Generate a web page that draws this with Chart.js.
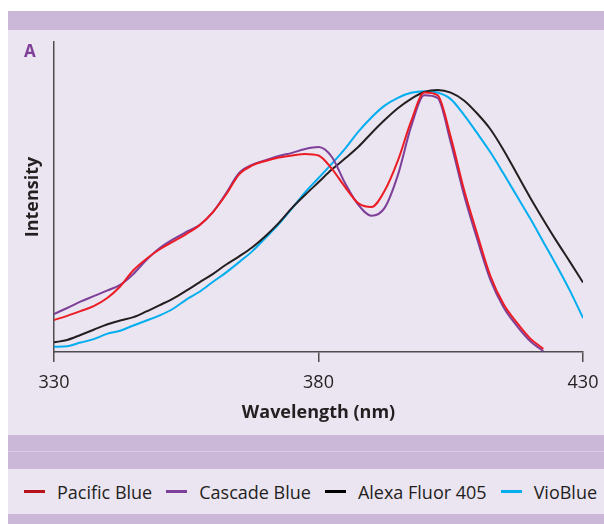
<!DOCTYPE html>
<html>
<head>
<meta charset="utf-8">
<title>Excitation spectra</title>
<script src="https://cdn.jsdelivr.net/npm/chart.js@4.4.1/dist/chart.umd.min.js"></script>
<style>
  body { margin: 0; width: 604px; height: 524px; background: #fff; position: relative; overflow: hidden;
         font-family: "Open Sans", sans-serif; color: #231f20; }
  .band  { position: absolute; left: 8px; right: 0; background: #cbb8d8; }
  .panel { position: absolute; left: 8px; right: 0; background: #ebe4f1; }
  .seam  { position: absolute; left: 8px; right: 0; top: 451px; height: 1px; background: #d9cce3; }
  #chart { position: absolute; left: 8px; top: 30px; }
  .tag   { position: absolute; left: 24px; top: 39px; font-weight: bold; font-size: 17px; color: #7e3f98; }
  #legend { position: absolute; left: 8px; right: 0; top: 469px; height: 45px; display: flex; align-items: center;
            padding-left: 16px; font-size: 18px; white-space: nowrap; }
  .swatch { width: 21px; height: 3px; margin-right: 12px; }
  .item   { display: flex; align-items: center; margin-right: 14px; }
</style>
</head>
<body>
  <div class="band" style="top:11px;height:19px"></div>
  <div class="panel" style="top:30px;height:405px"></div>
  <div class="band" style="top:435px;height:34px"></div>
  <div class="seam"></div>
  <div class="panel" style="top:469px;height:45px"></div>
  <div class="band" style="top:514px;height:10px"></div>
  <canvas id="chart" width="596" height="405"></canvas>
  <div class="tag">A</div>
  <div id="legend"></div>

<script>
// wavelength grid (nm)
const wavelengths = [330, 332.5, 335, 337.5, 340, 342.5, 345, 347.5, 350, 352.5,
  355, 357.5, 360, 362.5, 365, 367.5, 370, 372.5, 375, 377.5,
  380, 382.5, 385, 387.5, 390, 392.5, 395, 397.5, 400, 402.5,
  405, 407.5, 410, 412.5, 415, 417.5, 420, 422.5, 425, 427.5, 430];

// relative intensity (peak ~100)
const pacificBlue = [12.2, 13.8, 15.6, 17.5, 20.5, 25.0, 31.2, 35.6, 39.2, 42.1,
  45.0, 48.4, 53.3, 60.0, 67.8, 71.2, 72.9, 74.2, 75.0, 75.6,
  75.0, 70.0, 63.0, 56.8, 55.3, 61.5, 73.0, 88.0, 99.0, 98.0,
  82.0, 62.0, 45.0, 29.0, 18.2, 11.2, 5.2, 1.2, null, null, null];

const cascadeBlue = [14.5, 16.8, 19.2, 21.3, 23.4, 25.6, 29.8, 35.2, 39.7, 43.0,
  45.8, 48.4, 53.3, 60.5, 68.3, 71.5, 73.2, 74.8, 76.0, 77.5,
  78.2, 74.5, 64.5, 56.2, 52.0, 55.0, 67.5, 86.0, 98.0, 97.0,
  80.0, 60.0, 43.0, 27.5, 17.0, 10.0, 4.2, 0.3, null, null, null];

const alexaFluor405 = [3.7, 4.6, 6.5, 8.5, 10.5, 12.0, 13.3, 15.5, 17.9, 20.4,
  23.4, 26.6, 29.7, 33.3, 36.5, 40.0, 44.3, 49.3, 55.0, 60.0,
  64.8, 69.6, 73.8, 78.2, 83.5, 88.5, 93.0, 96.6, 99.2, 100,
  99.0, 96.0, 91.0, 85.0, 77.0, 68.0, 59.0, 50.5, 42.3, 34.5, 26.5];

const vioBlue = [2.0, 2.2, 3.6, 4.9, 6.9, 8.1, 10.1, 12.0, 14.0, 16.5,
  20.0, 23.0, 26.7, 30.3, 34.3, 38.5, 43.6, 48.8, 54.8, 61.0,
  66.4, 71.8, 77.5, 84.0, 89.5, 94.0, 97.0, 98.9, 99.5, 99.0,
  96.5, 90.5, 83.5, 76.2, 68.0, 59.5, 51.0, 42.0, 33.0, 23.5, 13.0];

const seriesNames = ['Pacific Blue', 'Cascade Blue', 'Alexa Fluor 405', 'VioBlue'];
const seriesValues = [pacificBlue, cascadeBlue, alexaFluor405, vioBlue];
const lineColors = ['#ec1c24', '#7d3f98', '#231f20', '#00aeef'];
const legendColors = ['#b5121b', '#7d3f98', '#000000', '#00aeef'];
const xTicks = [330, 380, 430];

const axisColor = '#4d4d4f';
const textColor = '#231f20';
Chart.defaults.font.family = "'Open Sans', sans-serif";

const datasets = seriesNames.map((name, i) => ({
  label: name,
  data: wavelengths
    .map((w, j) => ({ x: w, y: seriesValues[i][j] }))
    .filter(p => p.y !== null),
  borderColor: lineColors[i],
  borderWidth: 2,
  pointRadius: 0,
  fill: false,
  cubicInterpolationMode: 'monotone',
}));

new Chart(document.getElementById('chart'), {
  type: 'line',
  data: { datasets },
  options: {
    responsive: false,
    animation: false,
    layout: { padding: { top: 12, right: 21, left: 0, bottom: 0 } },
    plugins: { legend: { display: false }, tooltip: { enabled: false } },
    scales: {
      x: {
        type: 'linear',
        min: xTicks[0],
        max: xTicks[xTicks.length - 1],
        // fixed axis box so the plot area lines up with the panel
        afterFit: (s) => { s.height = 83; s.paddingLeft = 0; s.paddingRight = 0; },
        afterBuildTicks: (s) => { s.ticks = xTicks.map(v => ({ value: v })); },
        ticks: { padding: 10, color: textColor, font: { size: 18 } },
        grid: { drawOnChartArea: false, drawTicks: true, tickLength: 10, color: axisColor, lineWidth: 1.5 },
        border: { color: axisColor, width: 1.5 },
        title: {
          display: true, text: 'Wavelength (nm)', color: textColor,
          font: { size: 18, weight: 'bold' }, padding: { top: 0, bottom: 11 },
        },
      },
      y: {
        min: 0,
        max: 118.3,
        afterFit: (s) => { s.width = 46; s.paddingTop = 0; s.paddingBottom = 0; },
        ticks: { display: false },
        grid: { drawOnChartArea: false, drawTicks: false },
        border: { display: true, color: axisColor, width: 1.5 },
        title: {
          display: true, text: 'Intensity', color: textColor,
          font: { size: 18, weight: 'bold' }, padding: { top: 14, bottom: 0 },
        },
      },
    },
  },
});

// legend in the lower panel
const legend = document.getElementById('legend');
seriesNames.forEach((name, i) => {
  const item = document.createElement('div');
  item.className = 'item';
  item.innerHTML = `<div class="swatch" style="background:${legendColors[i]}"></div><span>${name}</span>`;
  legend.appendChild(item);
});
</script>
</body>
</html>
